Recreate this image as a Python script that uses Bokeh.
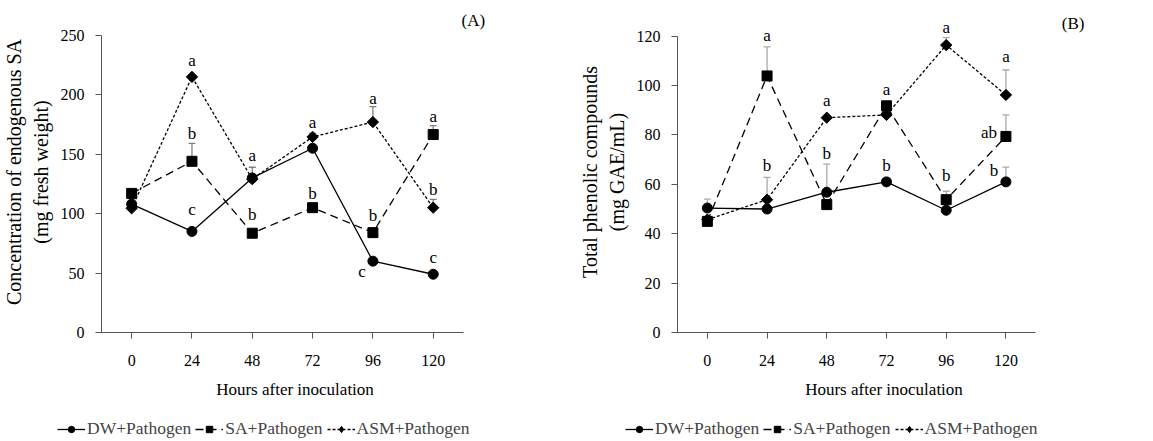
import math
from bokeh.plotting import figure
from bokeh.models import (ColumnDataSource, Range1d, Whisker, TeeHead, FixedTicker,
                          Legend, LegendItem, SingleIntervalTicker)
from bokeh.layouts import row, column
from bokeh.core.properties import value
from bokeh.embed import file_html
from bokeh.resources import INLINE

# ---------------- data ----------------
hours = [0, 24, 48, 72, 96, 120]
hour_labels = ["0", "24", "48", "72", "96", "120"]

# Panel A: concentration of endogenous SA
A_dw = [108, 85, 130, 155, 60, 49]
A_sa = [117, 144, 83.5, 105, 84, 166.5]
A_asm = [104.5, 215, 129, 164.5, 177, 105]
A_dw_err = [0, 0, 0, 0, 0, 0]
A_sa_err = [0, 15, 0, 0, 0, 7.5]
A_asm_err = [0, 0, 10, 3, 13, 7]
A_letters = [(24, "asm", "a"), (24, "sa", "b"), (24, "dw", "c"),
             (48, "asm", "a"), (48, "sa", "b"),
             (72, "asm", "a"), (72, "sa", "b"),
             (96, "asm", "a"), (96, "sa", "b"), (96, "dw", "c"),
             (120, "sa", "a"), (120, "asm", "b"), (120, "dw", "c")]

# Panel B: total phenolic compounds
B_dw = [50.4, 50, 56.8, 61, 49.5, 61]
B_sa = [45, 103.9, 51.8, 91.8, 53.8, 79.4]
B_asm = [45.7, 53.8, 87, 88.1, 116.4, 96.2]
B_dw_err = [3.6, 0, 11.4, 0, 0, 6]
B_sa_err = [0, 11.8, 0, 0, 3.4, 8.7]
B_asm_err = [0, 9, 0, 0, 3, 10.1]
B_letters = [(24, "sa", "a"), (24, "asm", "b"),
             (48, "asm", "a"), (48, "dw", "b"),
             (72, "sa", "a"), (72, "dw", "b"),
             (96, "asm", "a"), (96, "sa", "b"),
             (120, "asm", "a"), (120, "sa", "ab"), (120, "dw", "b")]

series_keys = ["dw", "sa", "asm"]
series_names = ["DW+Pathogen", "SA+Pathogen", "ASM+Pathogen"]

# ---------------- placement (screen px offsets of the letters) ----------------
A_letter_offsets = [(0, -16), (0, -28), (0, -22), (0, -24), (0, -19), (0, -14), (0, -14),
                    (0, -24), (0, -17), (-11, 10), (0, -18), (0, -18), (0, -17)]
B_letter_offsets = [(0, -40), (0, -34), (0, -17), (0, -39), (0, -16), (0, -16),
                    (0, -18), (0, -24), (0, -38), (-17, -4), (-12, -11)]

FONT = "Liberation Serif"
STYLES = {
    "dw": dict(dash="solid", marker="circle", size=10, angle=0, lmarker="circle", lsize=8),
    "sa": dict(dash="8 5", marker="square", size=10, angle=0, lmarker="square", lsize=8),
    "asm": dict(dash="3 2", marker="square", size=8, angle=math.pi / 4,
                lmarker="diamond", lsize=12),
}


def make_panel(dw, sa, asm, errs, letters, offsets, ymax, ytop, ystep, ytitle,
               tag, tag_xy, xend, borders, width, height, err_color):
    left, right, top, bottom = borders
    p = figure(width=width, height=height, x_range=Range1d(-12, xend),
               y_range=Range1d(0, ytop), output_backend="svg", toolbar_location=None,
               min_border_left=left, min_border_right=right, min_border_top=top,
               min_border_bottom=bottom)
    p.outline_line_color = None
    p.xgrid.visible = False
    p.ygrid.visible = False

    vals = {"dw": dw, "sa": sa, "asm": asm}
    # error bars (upper only)
    for key, e in zip(series_keys, errs):
        xs = [h for h, ee in zip(hours, e) if ee > 0]
        lo = [v for v, ee in zip(vals[key], e) if ee > 0]
        up = [v + ee for v, ee in zip(vals[key], e) if ee > 0]
        if xs:
            src = ColumnDataSource(dict(x=xs, lower=lo, upper=up))
            w = Whisker(source=src, base="x", lower="lower", upper="upper",
                        dimension="height", line_color=err_color, line_width=1.3,
                        lower_head=None,
                        upper_head=TeeHead(size=7, line_color=err_color, line_width=1.3))
            p.add_layout(w)

    sources = {}
    for key in series_keys:
        st = STYLES[key]
        src = ColumnDataSource(dict(x=hours, y=vals[key]))
        sources[key] = src
        p.line("x", "y", source=src, line_color="black", line_width=1.3,
               line_dash=st["dash"])
        p.scatter("x", "y", source=src, marker=st["marker"], size=st["size"],
                  angle=st["angle"], fill_color="black", line_color="black")

    # significance letters
    lx = [l[0] for l in letters]
    ly = [vals[l[1]][hours.index(l[0])] for l in letters]
    lt = [l[2] for l in letters]
    lsrc = ColumnDataSource(dict(x=lx, y=ly, t=lt,
                                 dx=[o[0] for o in offsets], dy=[o[1] for o in offsets]))
    p.text("x", "y", text="t", source=lsrc, x_offset="dx", y_offset="dy",
           text_align="center", text_baseline="middle", text_font=value(FONT),
           text_font_size="17px", text_color="black")

    # panel tag
    p.text(x=[tag_xy[0]], y=[tag_xy[1]], text=[tag], text_align="center",
           text_baseline="middle", text_font=value(FONT), text_font_size="17px",
           text_color="black")

    # axes
    for ax in (p.xaxis[0], p.yaxis[0]):
        ax.axis_line_color = "#555555"
        ax.major_tick_line_color = "#555555"
        ax.minor_tick_line_color = None
        ax.major_tick_in = 0
        ax.major_tick_out = 6
        ax.major_label_text_font = FONT
        ax.major_label_text_font_size = "16px"
        ax.major_label_text_color = "black"
        ax.axis_label_text_font = FONT
        ax.axis_label_text_font_style = "normal"
        ax.axis_label_text_color = "black"
    p.xaxis.bounds = (-12, 132)
    p.xaxis.ticker = FixedTicker(ticks=hours)
    p.xaxis.major_label_overrides = {h: s for h, s in zip(hours, hour_labels)}
    p.xaxis.axis_label = "Hours after inoculation"
    p.xaxis.axis_label_text_font_size = "17px"
    p.xaxis.major_label_standoff = 16
    p.xaxis.axis_label_standoff = 11
    p.yaxis.bounds = (0, ymax)
    p.yaxis.ticker = SingleIntervalTicker(interval=ystep)
    p.yaxis.axis_label = ytitle
    p.yaxis.axis_label_text_font_size = "20px"
    p.yaxis.major_label_standoff = 11
    p.yaxis.axis_label_standoff = 6
    return p, sources


def make_legend(width, height, x0, sources):
    # legend strip below a panel; the series are drawn off-range so only the key shows
    q = figure(width=width, height=height, x_range=Range1d(1000, 1001),
               y_range=Range1d(1000, 1001), output_backend="svg", toolbar_location=None,
               min_border=0, x_axis_location=None, y_axis_location=None)
    q.outline_line_color = None
    q.xgrid.visible = False
    q.ygrid.visible = False
    items = []
    for key, name in zip(series_keys, series_names):
        st = STYLES[key]
        lr = q.line("x", "y", source=sources[key], line_color="black", line_width=1.3,
                    line_dash=st["dash"])
        sr = q.scatter("x", "y", source=sources[key], marker=st["lmarker"],
                       size=st["lsize"], fill_color="black", line_color="black")
        items.append(LegendItem(label=name, renderers=[lr, sr]))
    legend = Legend(items=items, orientation="horizontal", location=(x0, 2),
                    label_text_font=FONT, label_text_font_size="17.5px",
                    glyph_width=28, glyph_height=16, label_standoff=2, spacing=4,
                    padding=0, margin=0, border_line_color=None,
                    background_fill_alpha=0)
    q.add_layout(legend, "center")
    return q


pA, srcA = make_panel(A_dw, A_sa, A_asm, [A_dw_err, A_sa_err, A_asm_err], A_letters,
                      A_letter_offsets, 250, 270, 50,
                      "Concentration of endogenous SA\n(mg fresh weight)", "(A)",
                      (136, 262.5), 142, (96, 88, 11, 81), 576, 416, "#808080")
pB, srcB = make_panel(B_dw, B_sa, B_asm, [B_dw_err, B_sa_err, B_asm_err], B_letters,
                      B_letter_offsets, 120, 130, 20,
                      "Total phenolic compounds\n(mg GAE/mL)", "(B)", (147, 125),
                      154, (89, 63, 10, 84), 577, 416, "#aaaaaa")
lA = make_legend(576, 25, 57, srcA)
lB = make_legend(577, 25, 49, srcB)

layout = column(row(pA, pB), row(lA, lB))
open("out.html", "w").write(file_html(layout, INLINE))
